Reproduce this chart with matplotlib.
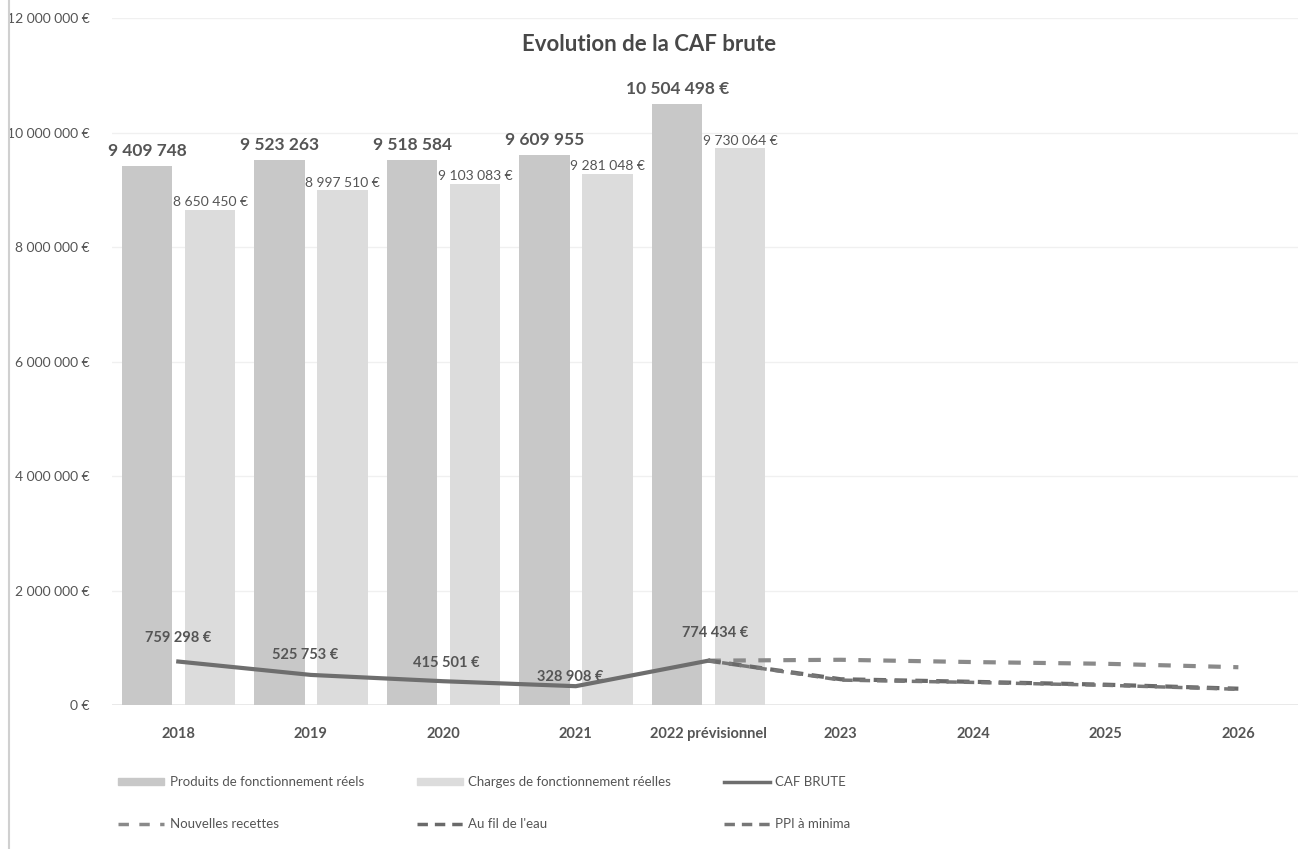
import matplotlib.pyplot as plt
from matplotlib.ticker import FuncFormatter
from matplotlib.lines import Line2D
from matplotlib.patches import Patch

plt.rcParams['font.family'] = ['Lato', 'DejaVu Sans']

categories = ['2018', '2019', '2020', '2021', '2022 prévisionnel',
              '2023', '2024', '2025', '2026']
produits = [9409748, 9523263, 9518584, 9609955, 10504498]
charges = [8650450, 8997510, 9103083, 9281048, 9730064]
caf_brute = [759298, 525753, 415501, 328908, 774434]
produits_labels = ['9 409 748', '9 523 263', '9 518 584', '9 609 955', '10 504 498 €']

# projections 2022 -> 2026
nouvelles_recettes = [774434, 790000, 750000, 720000, 660000]
au_fil_de_leau = [774434, 450000, 405000, 355000, 285000]
ppi_minima = [774434, 435000, 395000, 345000, 275000]


def euro(v, pos=None):
    return '{:,.0f} €'.format(v).replace(',', ' ')


fig = plt.figure(figsize=(12.98, 8.49), dpi=100)
ax = fig.add_axes([0.0863, 0.1696, 0.9137, 0.8092])

x_hist = list(range(len(produits)))
x_proj = list(range(4, len(categories)))
w = 0.38
txt = '#555555'

ax.bar([i - 0.235 for i in x_hist], produits, width=w, color='#c8c8c8', zorder=2)
ax.bar([i + 0.24 for i in x_hist], charges, width=w, color='#dcdcdc', zorder=2)

ax.plot(x_hist, caf_brute, color='#6e6e6e', lw=3, zorder=4)
ax.plot(x_proj, nouvelles_recettes, color='#8a8a8a', lw=3, ls=(0, (3, 3)), zorder=4)
ax.plot(x_proj, au_fil_de_leau, color='#6a6a6a', lw=3, ls=(0, (3, 2)), zorder=4)
ax.plot(x_proj, ppi_minima, color='#777777', lw=2.5, ls=(1, (3, 2)), zorder=4)

for i, v in enumerate(produits):
    ax.annotate(produits_labels[i], (i - 0.235, v), xytext=(0, 5),
                textcoords='offset points', ha='center', va='bottom',
                fontsize=12.5, fontweight='bold', color=txt)
for i, v in enumerate(charges):
    ax.annotate(euro(v), (i + 0.24, v), xytext=(0, 1),
                textcoords='offset points', ha='center', va='bottom',
                fontsize=10, color=txt)
caf_offsets = [(0, 12), (-4, 9.5), (2, 8), (-4, 1.5), (5, 15)]
for i, v in enumerate(caf_brute):
    ax.annotate(euro(v), (i, v), xytext=caf_offsets[i],
                textcoords='offset points', ha='center', va='bottom',
                fontsize=10.5, fontweight='bold', color=txt)

ax.set_xlim(-0.5, 8.45)
ax.set_ylim(0, 12000000)
ax.set_yticks(range(0, 12000001, 2000000))
ax.yaxis.set_major_formatter(FuncFormatter(euro))
ax.set_xticks(range(len(categories)))
ax.set_xticklabels(categories, fontsize=10.5, fontweight='bold', color=txt)
ax.tick_params(axis='y', labelsize=10, labelcolor=txt, length=0, pad=16)
ax.tick_params(axis='x', length=0, pad=16)
ax.grid(axis='y', color='#f0f0f0', lw=1, zorder=0)
for s in ax.spines.values():
    s.set_visible(False)
ax.axhline(0, color='#e4e4e4', lw=1.2, zorder=1)

fig.text(0.5, 0.947, 'Evolution de la CAF brute', ha='center', va='center',
         fontsize=16, fontweight='bold', color='#484848')

handles = [
    Patch(color='#c8c8c8'),
    Line2D([], [], color='#8a8a8a', lw=2.5, ls=(0, (3, 3))),
    Patch(color='#dcdcdc'),
    Line2D([], [], color='#6a6a6a', lw=2.5, ls=(0, (3, 2))),
    Line2D([], [], color='#6e6e6e', lw=2.5),
    Line2D([], [], color='#777777', lw=2.5, ls=(0, (3, 2))),
]
labels = ['Produits de fonctionnement réels', 'Nouvelles recettes',
          'Charges de fonctionnement réelles', "Au fil de l'eau",
          'CAF BRUTE', 'PPI à minima']
fig.legend(handles, labels, ncol=3, loc='lower left',
           bbox_to_anchor=(0.082, 0.008), frameon=False, fontsize=9.5,
           labelcolor=txt, handlelength=3.5, handleheight=0.5,
           columnspacing=4.0, labelspacing=2.3, handletextpad=0.4)

fig.add_artist(Line2D([0.007, 0.007], [0.0, 1.0], color='#d0d0d0', lw=1.5))

fig.savefig('out.png', dpi=100)
